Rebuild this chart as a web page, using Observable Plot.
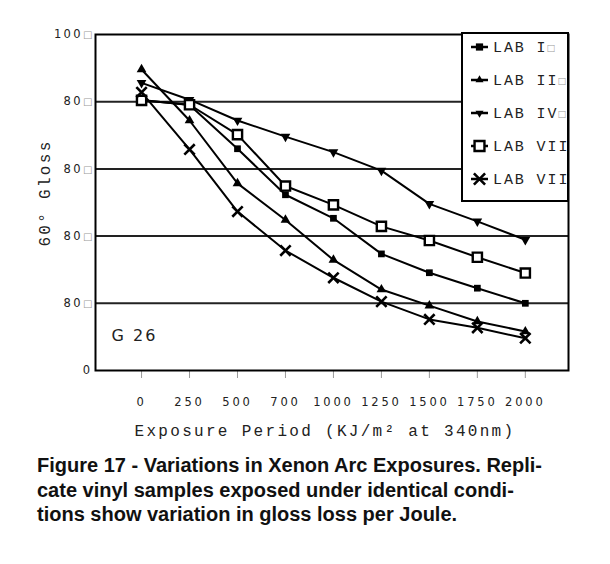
<!DOCTYPE html>
<html><head><meta charset="utf-8">
<script src="https://cdn.jsdelivr.net/npm/d3@7"></script>
<script src="https://cdn.jsdelivr.net/npm/@observablehq/plot@0.6"></script>
<style>
body{margin:0;background:#fff;}
#caption{font-family:"Liberation Sans",Arial,sans-serif;font-weight:bold;font-size:20px;line-height:24.5px;margin:3px 0 0 37px;color:#111;white-space:pre;}
</style></head><body><div id="chart"></div><div id="caption"></div>
<script>
// ---- data ----
const exposure = ["0","250","500","700","1000","1250","1500","1750","2000"];
const labs = ["LAB I","LAB II","LAB IV","LAB VIII","LAB VII"];
const legendLabels = ["LAB I\u25A1","LAB II\u25A1","LAB IV\u25A1","LAB VIII","LAB VII\u25A1"];
const labI    = [80.5, 79.0, 66.0, 52.3, 45.3, 34.7, 29.1, 24.5, 20.0];
const labII   = [89.6, 74.4, 55.7, 44.8, 32.9, 24.1, 19.3, 14.6, 11.6];
const labIV   = [85.6, 80.6, 74.4, 69.6, 65.0, 59.5, 49.6, 44.4, 38.9];
const labVIII = [80.4, 79.1, 70.2, 54.9, 49.3, 42.9, 38.7, 33.7, 29.0];
const labVII  = [82.8, 65.8, 47.3, 35.7, 27.6, 20.5, 15.2, 12.7, 9.6];
const yTicks = [0, 20, 40, 60, 80, 100];
const yTickLabels = ["0", "80\u25A1", "80\u25A1", "80\u25A1", "80\u25A1", "100\u25A1"];
const gridY = [20, 40, 60, 80];
const xTitle = "Exposure Period (KJ/m\u00B2 at 340nm)";
const yTitle = "60\u00B0 Gloss";
const sampleLabel = "G 26";
const captionLines = [
  "Figure 17 - Variations in Xenon Arc Exposures. Repli-",
  "cate vinyl samples exposed under identical condi-",
  "tions show variation in gloss loss per Joule."
];

// ---- build ----
const series = [labI, labII, labIV, labVIII, labVII];
const rows = labs.flatMap((lab, k) => series[k].map((v, i) => ({lab, i, gloss: v})));
const of = lab => rows.filter(d => d.lab === lab);
const symbolSpec = {
  "LAB I":    {symbol: "square",   fill: "black", stroke: "none", r: 3.8, rotate: 0},
  "LAB II":   {symbol: "triangle", fill: "black", stroke: "none", r: 3.6, rotate: 0},
  "LAB IV":   {symbol: "triangle", fill: "black", stroke: "none", r: 3.6, rotate: 180},
  "LAB VIII": {symbol: "square",   fill: "white", stroke: "black", r: 5.2, rotate: 0, strokeWidth: 2.4},
  "LAB VII":  {symbol: "times",    fill: "none", stroke: "black", r: 4.8, rotate: 0, strokeWidth: 2.6}
};

const mono = "'Liberation Mono', 'DejaVu Sans Mono', monospace";
const sans = "'DejaVu Sans', sans-serif";

const chart = Plot.plot({
  width: 610, height: 450,
  marginLeft: 95, marginRight: 42, marginTop: 34, marginBottom: 80,
  style: {fontFamily: sans, fontSize: "11.5px", color: "#222", background: "white"},
  x: {type: "linear", domain: [-0.96, 8.9]},
  y: {domain: [0, 100]},
  marks: [
    Plot.ruleY(gridY, {stroke: "#222", strokeWidth: 2}),
    Plot.axisX({ticks: d3.range(exposure.length), tickFormat: i => exposure[i], tickSize: 8, tickPadding: 19, stroke: "#999", label: null}),
    Plot.axisY({ticks: yTicks, tickFormat: d => yTickLabels[yTicks.indexOf(d)], tickSize: 0, tickPadding: 3, label: null}),
    Plot.line(rows, {x: "i", y: "gloss", z: "lab", stroke: "black", strokeWidth: 2}),
    ...labs.map(lab => {
      const s = symbolSpec[lab];
      return Plot.dot(of(lab), {x: "i", y: "gloss", symbol: s.symbol, fill: s.fill, stroke: s.stroke, r: s.r, rotate: s.rotate, strokeWidth: s.strokeWidth || 1});
    }),
    Plot.text([sampleLabel], {frameAnchor: "bottom-left", dx: 16, dy: -30, textAnchor: "start", fontSize: 16, fill: "#222"}),
    Plot.frame({stroke: "black", strokeWidth: 2})
  ]
});
document.getElementById("chart").appendChild(chart);

const svg = d3.select(chart);
svg.selectAll("[aria-label='x-axis tick label'] text").style("letter-spacing", "2.8px");
svg.selectAll("[aria-label='y-axis tick label'] text").style("letter-spacing", "2.4px");
svg.selectAll("[aria-label='text'] text").style("letter-spacing", "2px");

// tofu boxes rendered lighter
svg.selectAll("text").each(function() {
  const t = this.textContent;
  if (t.includes("\u25A1") && this.childElementCount === 0) {
    const parts = t.split("\u25A1");
    this.textContent = "";
    const sel = d3.select(this);
    parts.forEach((p, j) => {
      if (p) sel.append("tspan").text(p);
      if (j < parts.length - 1) sel.append("tspan").attr("fill", "#999").style("font-size", "10px").style("letter-spacing", "0").text("\u25A1");
    });
  }
});

// axis titles
svg.append("text").attr("x", 325).attr("y", 436).attr("text-anchor", "middle")
  .style("font-family", mono).style("font-size", "16px").style("letter-spacing", "2.3px").attr("fill", "#222").text(xTitle);
svg.append("text").attr("transform", "translate(50,193) rotate(-90)").attr("text-anchor", "middle")
  .style("font-family", mono).style("font-size", "16px").style("letter-spacing", "2.3px").attr("fill", "#222").text(yTitle);

// legend
const L = {x: 462, y: 33, w: 106, h: 168, step: 33, first: 47};
const lg = svg.append("g");
lg.append("clipPath").attr("id", "lgclip").append("rect").attr("x", L.x).attr("y", L.y).attr("width", L.w).attr("height", L.h);
lg.append("rect").attr("x", L.x).attr("y", L.y).attr("width", L.w).attr("height", L.h).attr("fill", "white").attr("stroke", "black").attr("stroke-width", 2);
const symMap = {square: d3.symbolSquare, triangle: d3.symbolTriangle2, times: d3.symbolTimes};
labs.forEach((lab, k) => {
  const s = symbolSpec[lab];
  const cy = L.first + k * L.step;
  lg.append("line").attr("x1", L.x + 9).attr("x2", L.x + 26).attr("y1", cy).attr("y2", cy).attr("stroke", "black").attr("stroke-width", 2.5);
  lg.append("path").attr("d", d3.symbol(symMap[s.symbol], Math.PI * s.r * s.r * 1.15)())
    .attr("transform", `translate(${L.x + 17.5},${cy}) rotate(${s.rotate})`)
    .attr("fill", s.fill).attr("stroke", s.stroke).attr("stroke-width", s.strokeWidth || 1);
  const t = lg.append("text").attr("x", L.x + 31).attr("y", cy + 5).attr("clip-path", "url(#lgclip)")
    .attr("text-anchor", "start")
    .style("font-family", mono).style("font-size", "15px").style("letter-spacing", "1.9px").attr("fill", "#222");
  const parts = legendLabels[k].split("\u25A1");
  parts.forEach((p, j) => {
    if (p) t.append("tspan").text(p);
    if (j < parts.length - 1) t.append("tspan").attr("fill", "#999").style("font-size", "12px").text("\u25A1");
  });
});

document.getElementById("caption").textContent = captionLines.join("\n");
</script></body></html>
